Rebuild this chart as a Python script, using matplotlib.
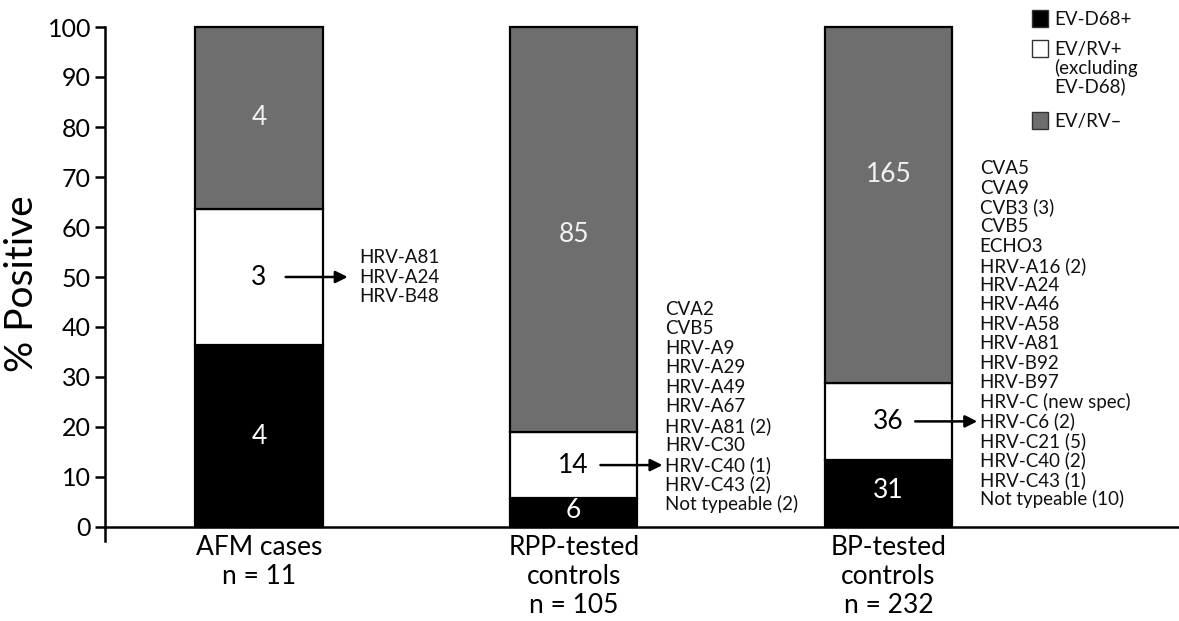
import numpy as np
import matplotlib.pyplot as plt
from matplotlib.patches import Rectangle

plt.rcParams['font.family'] = ['Lato', 'DejaVu Sans']

# groups on the x axis
groups = ['AFM cases\nn = 11', 'RPP-tested\ncontrols\nn = 105', 'BP-tested\ncontrols\nn = 232']

# counts per group (stacked from the bottom)
ev_d68 = [4, 6, 31]
ev_rv_pos = [3, 14, 36]
ev_rv_neg = [4, 85, 165]

series_names = ['EV-D68+', 'EV/RV+\n(excluding\nEV-D68)', 'EV/RV\u2013']
series_colors = ['black', 'white', '#6e6e6e']
text_colors = ['white', 'black', '#f2f2f2']

# types found among EV/RV+ (excluding EV-D68), arrow points at one line
afm_types = ['HRV-A81', 'HRV-A24', 'HRV-B48']
rpp_types = ['CVA2', 'CVB5', 'HRV-A9', 'HRV-A29', 'HRV-A49', 'HRV-A67',
             'HRV-A81 (2)', 'HRV-C30', 'HRV-C40 (1)', 'HRV-C43 (2)',
             'Not typeable (2)']
bp_types = ['CVA5', 'CVA9', 'CVB3 (3)', 'CVB5', 'ECHO3', 'HRV-A16 (2)',
            'HRV-A24', 'HRV-A46', 'HRV-A58', 'HRV-A81', 'HRV-B92', 'HRV-B97',
            'HRV-C (new spec)', 'HRV-C6 (2)', 'HRV-C21 (5)', 'HRV-C40 (2)',
            'HRV-C43 (1)', 'Not typeable (10)']
type_lists = [afm_types, rpp_types, bp_types]
arrow_line = [1, 8, 13]

# some count labels are not centred in their segment
label_y_fix = {(1, 0): 3.4, (1, 2): 58.5, (2, 0): 7.4, (2, 2): 70.5}

counts = np.array([ev_d68, ev_rv_pos, ev_rv_neg], dtype=float)
pct = counts / counts.sum(axis=0) * 100

W, H = 1179, 621
fig = plt.figure(figsize=(W / 100, H / 100), dpi=100)
ax = fig.add_axes([105 / W, 1 - 540.5 / H, 1 - 105 / W, (540.5 - 27) / H])

x = np.arange(len(groups))
width = 0.404
bottom = np.zeros(len(groups))
for i in range(3):
    ax.bar(x, pct[i], width=width, bottom=bottom, color=series_colors[i],
           edgecolor='black', linewidth=1.6, clip_on=False, zorder=2)
    for j in range(len(groups)):
        yc = label_y_fix.get((j, i), bottom[j] + pct[i][j] / 2)
        ax.text(x[j], yc, f'{int(counts[i][j])}', ha='center', va='center',
                fontsize=19, color=text_colors[i], zorder=3)
    bottom += pct[i]

# arrows and type lists
for j in range(len(groups)):
    ya = pct[0][j] + pct[1][j] / 2
    ax.annotate('', xy=(x[j] + 0.282, ya), xytext=(x[j] + 0.085, ya),
                arrowprops=dict(arrowstyle='-|>', color='black', lw=1.8,
                                mutation_scale=18, shrinkA=0, shrinkB=0),
                annotation_clip=False, zorder=4)
    tx = x[j] + (0.32 if j == 0 else 0.29)
    for k, t in enumerate(type_lists[j]):
        ax.annotate(t, xy=(tx, ya), xytext=(0, (arrow_line[j] - k) * 14.0),
                    textcoords='offset points', ha='left', va='center',
                    fontsize=13.5, color='#111111', annotation_clip=False)

ax.set_xlim(-0.489, 2.923)
ax.set_ylim(-2.7, 100)
ax.set_yticks(np.arange(0, 101, 10))
ax.set_xticks(x)
ax.set_xticklabels(groups)
ax.tick_params(axis='x', length=0, pad=6, labelsize=19)
ax.tick_params(axis='y', labelsize=18, length=7, width=1.8, pad=3)
for lab in ax.get_xticklabels():
    lab.set_linespacing(1.1)
ax.set_ylabel('% Positive', fontsize=28)
ax.yaxis.set_label_coords(-0.0605, 0.5)

ax.spines['top'].set_visible(False)
ax.spines['right'].set_visible(False)
ax.spines['bottom'].set_position(('data', 0))
ax.spines['bottom'].set_linewidth(1.8)
ax.spines['left'].set_linewidth(1.8)

# legend drawn by hand so the square sits on the first text line
legend_tops = [10, 40, 112]
for name, c, top in zip(series_names, series_colors, legend_tops):
    fig.patches.append(Rectangle((1032 / W, 1 - (top + 17) / H), 16 / W, 17 / H,
                                 transform=fig.transFigure, facecolor=c,
                                 edgecolor='#333333', linewidth=1.0))
    fig.text(1054 / W, 1 - (top + 1) / H, name, ha='left', va='top',
             fontsize=13.5, color='#111111', linespacing=1.05)

fig.savefig('out.png', dpi=100)
